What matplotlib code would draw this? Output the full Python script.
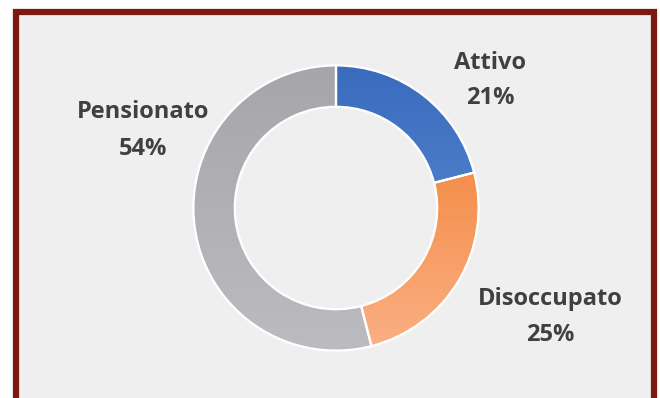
import numpy as np
import matplotlib
matplotlib.use("Agg")
import matplotlib.pyplot as plt
from matplotlib.patches import Rectangle
from matplotlib.colors import LinearSegmentedColormap

# Data
categories = ["Attivo", "Disoccupato", "Pensionato"]
shares = [21, 25, 54]

# Fill colours (top, bottom) for the vertical gradients
grad_colors = {
    "Attivo": ("#3a6bbd", "#6194da"),
    "Disoccupato": ("#f07a2a", "#fbb084"),
    "Pensionato": ("#a6a6aa", "#bcbcc0"),
}

W, H = 660, 398
fig = plt.figure(figsize=(W / 100, H / 100), dpi=100, facecolor="white")

# Panel background and dark red frame (pixel coordinates)
bg = fig.add_axes([0, 0, 1, 1])
bg.set_xlim(0, W)
bg.set_ylim(H, 0)
bg.axis("off")
bg.add_patch(Rectangle((16, 12), 638, 400, facecolor="#efefef",
                       edgecolor="#7a1a12", linewidth=4.5))

# Donut axes
cx, cy, r = 336, 208, 144
ax = fig.add_axes([(cx - r) / W, (H - cy - r) / H, 2 * r / W, 2 * r / H])
ax.axis("off")

wedges, _ = ax.pie(shares, startangle=90, counterclock=False, radius=1,
                   wedgeprops=dict(width=0.29, edgecolor="white", linewidth=1.6),
                   colors=[grad_colors[c][0] for c in categories])

# Vertical gradient fills clipped to each wedge
for w, cat in zip(wedges, categories):
    top, bottom = grad_colors[cat]
    cmap = LinearSegmentedColormap.from_list(cat, [bottom, top])
    grad = np.linspace(0, 1, 256).reshape(-1, 1)
    im = ax.imshow(grad, cmap=cmap, extent=[-1, 1, -1, 1], origin="lower",
                   aspect="auto", zorder=w.get_zorder() + 0.1)
    im.set_clip_path(w)
    w.set_facecolor("none")
    w.set_zorder(w.get_zorder() + 0.2)

ax.set_xlim(-1.01, 1.01)
ax.set_ylim(-1.01, 1.01)
ax.set_aspect("equal")

# Data labels in pixel coordinates
label_pos = {
    "Attivo": (490, 63, 98),
    "Disoccupato": (550, 299, 335),
    "Pensionato": (143, 112, 149),
}
font = dict(family="Open Sans", weight="bold", fontsize=17, color="#404040",
            ha="center", va="center")
for cat, val in zip(categories, shares):
    x, y1, y2 = label_pos[cat]
    bg.text(x, y1, cat, **font)
    bg.text(x, y2, f"{val}%", **font)

fig.savefig("out.png", dpi=100, facecolor="white")
